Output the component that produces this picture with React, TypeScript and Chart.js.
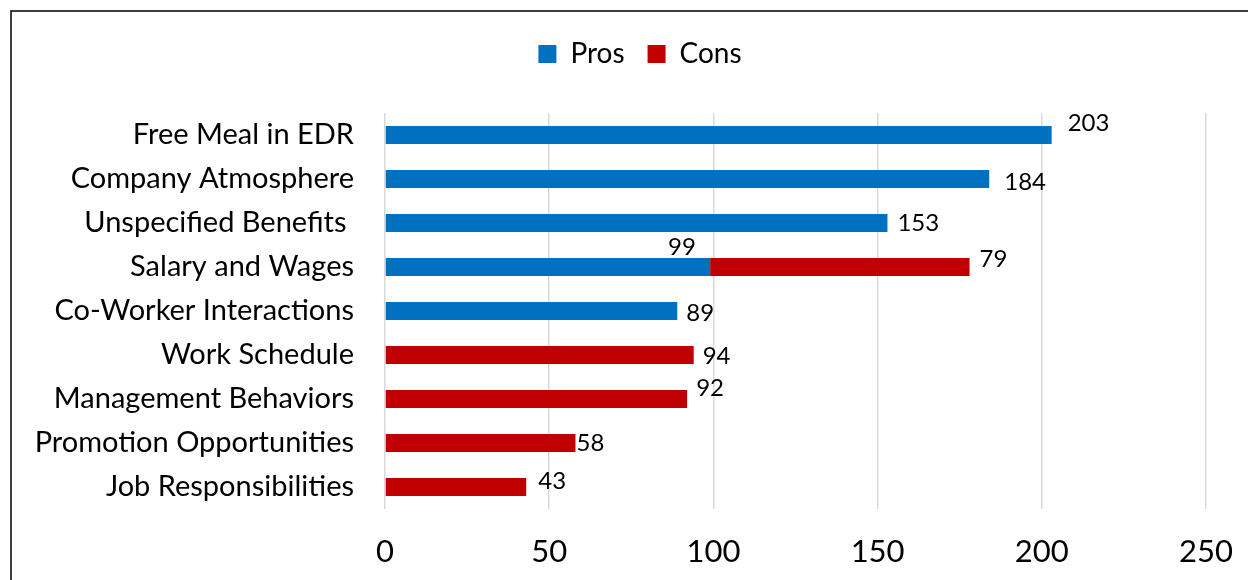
import React, { useEffect, useRef } from "react";
import { Chart, registerables } from "chart.js";

Chart.register(...registerables);

const categories = [
  "Free Meal in EDR",
  "Company Atmosphere",
  "Unspecified Benefits ",
  "Salary and Wages",
  "Co-Worker Interactions",
  "Work Schedule",
  "Management Behaviors",
  "Promotion Opportunities",
  "Job Responsibilities",
];

const prosValues: (number | null)[] = [203, 184, 153, 99, 89, null, null, null, null];
const consValues: (number | null)[] = [null, null, null, 79, null, 94, 92, 58, 43];

const xTicks = [0, 50, 100, 150, 200, 250];

// label nudges relative to the bar end (Excel-style placement)
const prosLabelNudge: [number, number][] = [
  [16, -12], [15, 3], [10, 0], [-42, -20], [9, 2], [0, 0], [0, 0], [0, 0], [0, 0],
];
const consLabelNudge: [number, number][] = [
  [0, 0], [0, 0], [0, 0], [10, -8], [0, 0], [9, 1], [9, -11], [1, 0], [12, -6],
];

const FONT = "Lato, 'Open Sans', sans-serif";

const PAD_RIGHT = 42;
const PLOT_LEFT = 385;
const LEGEND_LEFT = 74;

const borderPlugin = {
  id: "outerBorder",
  afterDraw(chart: any) {
    const ctx = chart.ctx;
    ctx.save();
    ctx.strokeStyle = "#000";
    ctx.lineWidth = 1.5;
    ctx.strokeRect(11, 11, 3000, 3000);
    ctx.restore();
  },
};

const legendSpacePlugin = {
  id: "legendSpace",
  beforeInit(chart: any) {
    const legend = chart.legend;
    if (!legend) return;
    const origFit = legend.fit;
    legend.fit = function () {
      origFit.call(this);
      this.height += 35;
    };
  },
  afterLayout(chart: any) {
    if (chart.legend) chart.legend.left = LEGEND_LEFT;
  },
};

const nudges = [prosLabelNudge, consLabelNudge];

const valueLabelPlugin = {
  id: "valueLabels",
  afterDatasetsDraw(chart: any) {
    const ctx = chart.ctx;
    ctx.save();
    ctx.font = `24px ${FONT}`;
    ctx.fillStyle = "#000";
    ctx.textAlign = "left";
    ctx.textBaseline = "middle";
    chart.data.datasets.forEach((ds: any, di: number) => {
      const meta = chart.getDatasetMeta(di);
      meta.data.forEach((el: any, i: number) => {
        const v = ds.data[i];
        if (v === null || v === undefined) return;
        const [dx, dy] = nudges[di][i];
        ctx.fillText(String(v), el.x + dx, el.y + dy);
      });
    });
    ctx.restore();
  },
};

export default function App() {
  const canvasRef = useRef<HTMLCanvasElement | null>(null);

  useEffect(() => {
    if (!canvasRef.current) return;
    const chart = new Chart(canvasRef.current, {
      type: "bar",
      data: {
        labels: categories,
        datasets: [
          {
            label: "Pros",
            data: prosValues,
            backgroundColor: "#0070C0",
            borderWidth: 0,
            categoryPercentage: 1,
            barPercentage: 0.41,
          },
          {
            label: "Cons",
            data: consValues,
            backgroundColor: "#C00000",
            borderWidth: 0,
            categoryPercentage: 1,
            barPercentage: 0.41,
          },
        ],
      },
      options: {
        indexAxis: "y",
        responsive: false,
        animation: false,
        layout: { padding: { top: 17, right: PAD_RIGHT, bottom: 0, left: 0 } },
        plugins: {
          legend: {
            position: "top",
            labels: {
              boxWidth: 18,
              boxHeight: 18,
              padding: 23,
              color: "#000",
              font: { family: FONT, size: 28 },
            },
          },
          tooltip: { enabled: false },
        },
        scales: {
          x: {
            stacked: true,
            min: 0,
            max: 250,
            afterBuildTicks(scale: any) {
              scale.ticks = xTicks.map((v) => ({ value: v }));
            },
            afterFit(scale: any) {
              scale.height = 71;
              scale.paddingLeft = 0;
              scale.paddingRight = 0;
            },
            grid: { color: "#d9d9d9", lineWidth: 1.5, drawTicks: false },
            border: { display: false },
            ticks: {
              padding: 24,
              color: "#000",
              font: { family: FONT, size: 31 },
            },
          },
          y: {
            stacked: true,
            afterFit(scale: any) {
              scale.width = PLOT_LEFT;
            },
            grid: { display: false, drawTicks: false },
            border: { display: false },
            ticks: {
              padding: 31,
              color: "#000",
              font: { family: FONT, size: 29 },
            },
          },
        },
      },
      plugins: [legendSpacePlugin, valueLabelPlugin, borderPlugin],
    } as any);
    return () => chart.destroy();
  }, []);

  return (
    <div style={{ position: "absolute", left: 0, top: 0, width: 1248, height: 580, background: "#fff" }}>
      <canvas ref={canvasRef} width={1248} height={580} style={{ display: "block" }} />
    </div>
  );
}
